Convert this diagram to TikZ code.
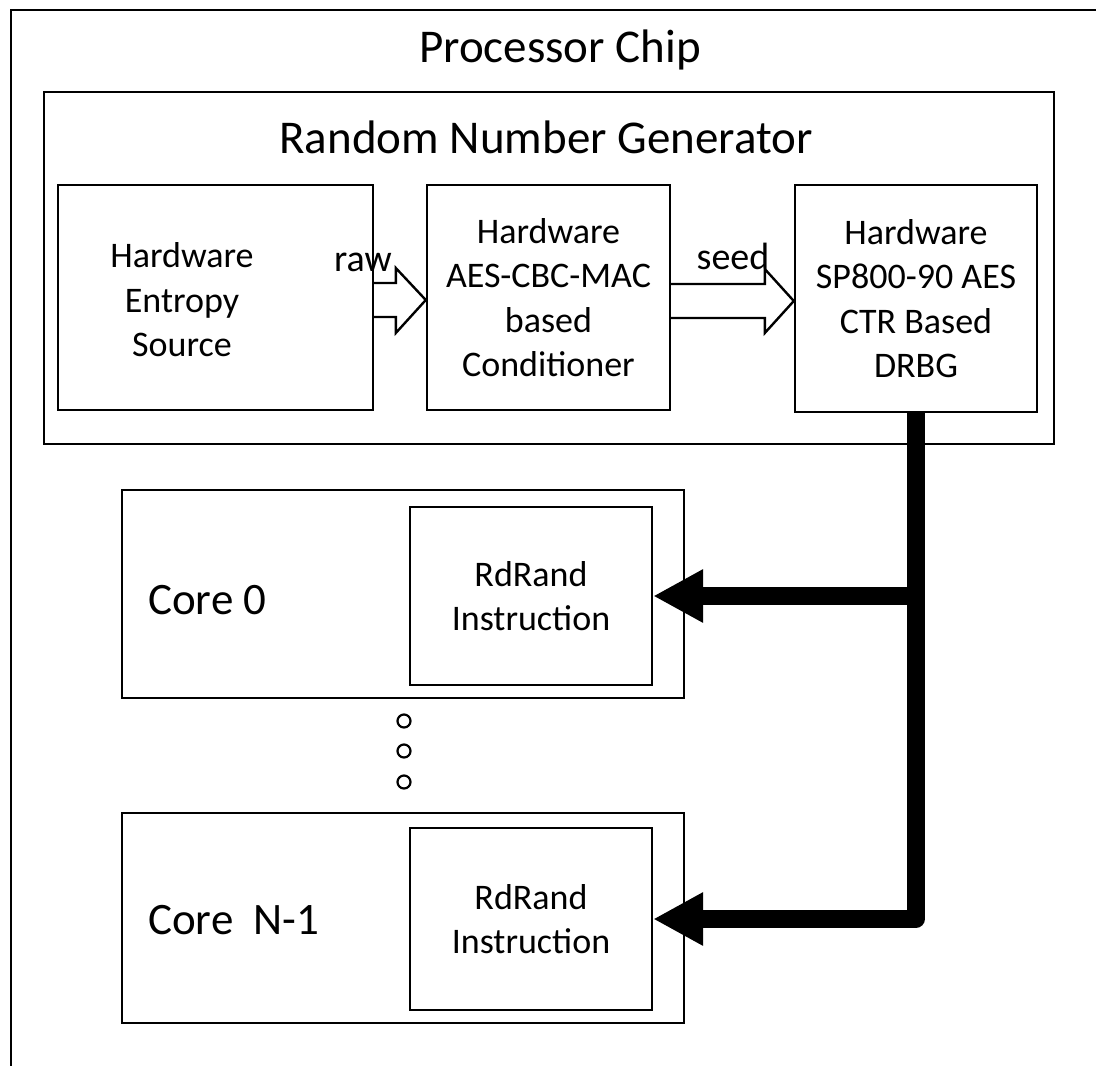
\documentclass[tikz,border=0pt]{standalone}
\usepackage{fontspec}
\setmainfont{Carlito}
\usetikzlibrary{arrows.meta,calc}
\begin{document}
\begin{tikzpicture}[x=1pt,y=-1pt,
  box/.style={draw, line width=2.4pt, inner sep=0pt},
  boxtext/.style={align=center, font=\fontsize{36}{44.5}\selectfont},
  bigtitle/.style={font=\fontsize{47}{56}\selectfont, inner sep=0pt},
  corelabel/.style={font=\fontsize{45}{54}\selectfont, anchor=west, inner sep=0pt},
  arrlabel/.style={font=\fontsize{38}{46}\selectfont, inner sep=0pt},
  openarrow/.style={draw, line width=2.4pt, line join=miter},
  thick/.style={line width=17.5pt, line join=round},
  dot/.style={circle, draw, line width=2.2pt, minimum size=13pt, inner sep=0pt}]
\useasboundingbox (0,0) rectangle (1096,1066);
% outer frame (clipped)
\coordinate (fbl) at (11,1070);
\coordinate (ftl) at (11,10);
\coordinate (ftr) at (1100,10);
\draw[line width=2.6pt] (fbl) -- (ftl) -- (ftr);
\node[bigtitle] (chip) at (560,50) {Processor Chip};
% RNG
\node[box, minimum width=1010pt, minimum height=352pt] (rng) at (549,268) {};
\node[bigtitle] (rngt) at (546,137) {Random Number Generator};
\node[box, minimum width=315pt, minimum height=225pt] (ent) at (215.5,297.5) {};
\node[boxtext] (entt) at (182,300) {Hardware\\Entropy\\Source};
\node[box, boxtext, minimum width=243pt, minimum height=225pt] (cond) at (548.5,297.5) {Hardware\\AES-CBC-MAC\\based\\Conditioner};
\node[box, boxtext, minimum width=242pt, minimum height=227pt] (drbg) at (916,298.5) {Hardware\\SP800-90 AES\\CTR Based\\DRBG};
% open arrows
\draw[openarrow] ($(ent.east)+(0,-14.5)$) -- ($(cond.west)+(-30,-14.5)$) -- ($(cond.west)+(-30,-29.5)$)
  -- ($(cond.west)+(0,2.5)$) -- ($(cond.west)+(-30,35.5)$) -- ($(cond.west)+(-30,19.5)$) -- ($(ent.east)+(0,19.5)$);
\draw[openarrow] ($(cond.east)+(0,-13.5)$) -- ($(drbg.west)+(-29,-14.5)$) -- ($(drbg.west)+(-29,-29.5)$)
  -- ($(drbg.west)+(0,2.5)$) -- ($(drbg.west)+(-29,34.5)$) -- ($(drbg.west)+(-29,19.5)$) -- ($(cond.east)+(0,20.5)$);
\node[arrlabel] (raw) at (363,262) {raw};
\node[arrlabel] (seed) at (733,256) {seed};
% cores
\node[box, minimum width=562pt, minimum height=208pt] (core0) at (403,594) {};
\node[box, boxtext, minimum width=242pt, minimum height=178pt] (rd0) at (531,596) {RdRand\\Instruction};
\node[corelabel] (c0t) at (148,600) {Core 0};
\node[box, minimum width=562pt, minimum height=210pt] (coreN) at (403,918) {};
\node[box, boxtext, minimum width=242pt, minimum height=182pt] (rdN) at (531,919) {RdRand\\Instruction};
\node[corelabel] (cNt) at (148,920) {Core\ \ N-1};
% dots
\node[dot] (d1) at (404,721) {};
\node[dot] (d2) at (404,751) {};
\node[dot] (d3) at (404,782) {};
% thick connectors
\draw[thick, -{Triangle[length=50pt,width=50pt]}] (drbg.south) |- (rdN.east);
\draw[thick, -{Triangle[length=50pt,width=50pt]}] (drbg.south |- rd0.east) -- (rd0.east);
\end{tikzpicture}
\end{document}
